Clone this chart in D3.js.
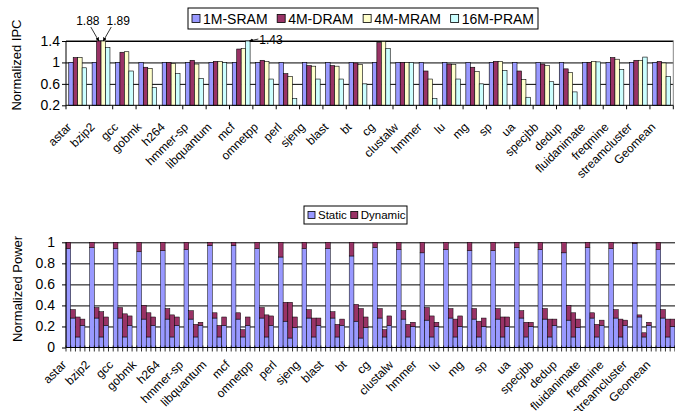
<!DOCTYPE html>
<html>
<head>
<meta charset="utf-8">
<script src="https://cdn.jsdelivr.net/npm/d3@7"></script>
<style>
  body { margin: 0; background: #fff; }
  svg { display: block; font-family: "Liberation Sans", Arial, sans-serif; }
</style>
</head>
<body>
<svg id="chart" width="675" height="411"></svg>
<script>
"use strict";

// benchmarks, same order on both charts
var categories = ["astar", "bzip2", "gcc", "gobmk", "h264", "hmmer-sp", "libquantum", "mcf",
  "omnetpp", "perl", "sjeng", "blast", "bt", "cg", "clustalw", "hmmer", "lu", "mg", "sp", "ua",
  "specjbb", "dedup", "fluidanimate", "freqmine", "streamcluster", "Geomean"];

var techs = ["1M-SRAM", "4M-DRAM", "4M-MRAM", "16M-PRAM"];
var techColors = ["#9999ff", "#993366", "#ffffcc", "#ccffff"];

// normalized IPC
var ipcSRAM = [1, 1, 1, 1, 1, 1, 1, 1, 1, 1, 1, 1, 1, 1, 1, 1, 1, 1, 1, 1, 1, 1, 1, 1, 1, 1];
var ipcDRAM = [1.09, 1.88, 1.19, 0.91, 1.00, 1.04, 1.02, 1.25, 1.04, 0.79, 0.94, 0.94, 0.99,
  1.37, 1.00, 0.84, 0.97, 0.91, 1.02, 0.84, 0.97, 0.88, 1.00, 1.09, 1.04, 1.02];
var ipcMRAM = [1.09, 1.89, 1.20, 0.89, 0.98, 0.97, 1.02, 1.26, 1.02, 0.74, 0.93, 0.93, 0.96,
  1.39, 1.00, 0.69, 0.96, 0.83, 1.02, 0.68, 0.94, 0.81, 1.02, 1.06, 1.04, 0.99];
var ipcPRAM = [0.90, 1.28, 0.84, 0.53, 0.79, 0.70, 1.00, 1.43, 0.69, 0.33, 0.69, 0.69, 0.60,
  1.26, 1.00, 0.33, 0.69, 0.60, 0.85, 0.35, 0.64, 0.45, 1.01, 0.87, 1.10, 0.74];
var ipcTicks = [0.2, 0.6, 1, 1.4];

// normalized power, static and dynamic part per technology
var staticSRAM = [0.94, 0.95, 0.94, 0.91, 0.92, 0.93, 0.97, 0.97, 0.94, 0.86, 0.94, 0.94, 0.87,
  0.95, 0.93, 0.90, 0.93, 0.92, 0.92, 0.95, 0.93, 0.90, 0.95, 0.94, 0.99, 0.93];
var dynamicSRAM = [0.06, 0.05, 0.06, 0.09, 0.08, 0.07, 0.03, 0.03, 0.06, 0.14, 0.06, 0.06, 0.13,
  0.05, 0.07, 0.10, 0.07, 0.08, 0.08, 0.05, 0.07, 0.10, 0.05, 0.06, 0.01, 0.07];
var staticDRAM = [0.28, 0.28, 0.28, 0.27, 0.27, 0.27, 0.28, 0.27, 0.28, 0.25, 0.28, 0.28, 0.25,
  0.28, 0.27, 0.26, 0.28, 0.27, 0.27, 0.28, 0.27, 0.26, 0.28, 0.28, 0.29, 0.28];
var dynamicDRAM = [0.08, 0.10, 0.10, 0.13, 0.10, 0.08, 0.05, 0.06, 0.10, 0.18, 0.08, 0.06, 0.16,
  0.09, 0.08, 0.12, 0.09, 0.10, 0.10, 0.07, 0.10, 0.14, 0.05, 0.08, 0.02, 0.08];
var staticMRAM = [0.10, 0.10, 0.10, 0.10, 0.10, 0.10, 0.10, 0.10, 0.10, 0.09, 0.10, 0.10, 0.09,
  0.10, 0.10, 0.10, 0.10, 0.10, 0.10, 0.10, 0.10, 0.10, 0.10, 0.10, 0.10, 0.10];
var dynamicMRAM = [0.19, 0.24, 0.22, 0.23, 0.21, 0.12, 0.11, 0.07, 0.21, 0.34, 0.18, 0.12, 0.28,
  0.07, 0.12, 0.20, 0.17, 0.15, 0.19, 0.14, 0.17, 0.23, 0.12, 0.17, 0.04, 0.17];
var staticPRAM = [0.21, 0.21, 0.21, 0.21, 0.21, 0.21, 0.21, 0.21, 0.21, 0.19, 0.21, 0.21, 0.19,
  0.21, 0.20, 0.20, 0.20, 0.20, 0.20, 0.20, 0.21, 0.19, 0.21, 0.21, 0.21, 0.20];
var dynamicPRAM = [0.06, 0.08, 0.09, 0.08, 0.08, 0.03, 0.08, 0.08, 0.09, 0.10, 0.07, 0.06, 0.10,
  0.09, 0.04, 0.04, 0.10, 0.08, 0.09, 0.04, 0.06, 0.08, 0.05, 0.05, 0.03, 0.07];
var powerTicks = [0, 0.2, 0.4, 0.6, 0.8, 1];
var powerParts = ["Static", "Dynamic"];
var partColors = ["#9999ff", "#993366"];

// values that run off the top of the IPC chart get a call-out
var ipcNotes = [
  {cat: "bzip2", tech: 1},
  {cat: "bzip2", tech: 2},
  {cat: "mcf", tech: 3}
];

var ipcSeries = [ipcSRAM, ipcDRAM, ipcMRAM, ipcPRAM];
var staticSeries = [staticSRAM, staticDRAM, staticMRAM, staticPRAM];
var dynamicSeries = [dynamicSRAM, dynamicDRAM, dynamicMRAM, dynamicPRAM];

var svg = d3.select("#chart");
svg.append("rect").attr("width", 675).attr("height", 411).attr("fill", "#fff");

// ---------- top chart: normalized IPC ----------
var ipcBox = {left: 66, right: 673.3, top: 41, bottom: 105.3};

var yIpc = d3.scaleLinear()
    .domain([0.2, 1.4])
    .range([ipcBox.bottom, ipcBox.top])
    .clamp(true);

var x0Ipc = d3.scaleBand()
    .domain(categories)
    .range([ipcBox.left, ipcBox.right]);

var x1Ipc = d3.scaleBand()
    .domain(d3.range(techs.length))
    .range([0, x0Ipc.bandwidth()])
    .paddingOuter(0.62);

var gTop = svg.append("g");

gTop.append("rect")
    .attr("x", ipcBox.left).attr("y", ipcBox.top)
    .attr("width", ipcBox.right - ipcBox.left).attr("height", ipcBox.bottom - ipcBox.top)
    .attr("fill", "#fff");

// gridlines
gTop.append("g")
    .attr("transform", "translate(" + ipcBox.left + ",0)")
    .call(d3.axisLeft(yIpc).tickValues(ipcTicks.slice(1)).tickSize(-(ipcBox.right - ipcBox.left)).tickFormat(""))
    .call(function(g) { g.select(".domain").remove(); })
    .selectAll("line").attr("stroke", "#000").attr("stroke-width", 1);

// plot border (top / right grey)
gTop.append("path")
    .attr("d", "M" + ipcBox.left + "," + (ipcBox.top - 0.5) + "H" + ipcBox.right + "V" + ipcBox.bottom)
    .attr("fill", "none").attr("stroke", "#888").attr("stroke-width", 1);

var ipcRows = categories.map(function(c, i) {
  return {cat: c, vals: ipcSeries.map(function(s) { return s[i]; })};
});

gTop.append("g")
  .selectAll("g")
    .data(ipcRows)
  .enter().append("g")
    .attr("transform", function(d) { return "translate(" + x0Ipc(d.cat) + ",0)"; })
  .selectAll("rect")
    .data(function(d) { return d.vals; })
  .enter().append("rect")
    .attr("x", function(d, i) { return x1Ipc(i); })
    .attr("y", function(d) { return yIpc(d); })
    .attr("width", x1Ipc.bandwidth())
    .attr("height", function(d) { return yIpc(0.2) - yIpc(d); })
    .attr("fill", function(d, i) { return techColors[i]; })
    .attr("stroke", "#000")
    .attr("stroke-width", 0.6);

// axes
var yAxisTop = gTop.append("g")
    .attr("transform", "translate(" + ipcBox.left + ",0)")
    .call(d3.axisLeft(yIpc).tickValues(ipcTicks).tickSize(4).tickPadding(2).tickFormat(function(d) { return String(d); }));
yAxisTop.select(".domain").attr("d", "M0," + ipcBox.top + "V" + ipcBox.bottom).attr("stroke", "#000");
yAxisTop.selectAll("line").attr("stroke", "#000");
yAxisTop.selectAll("text").attr("font-size", 14).attr("fill", "#000").attr("font-family", null);

var xTop = gTop.append("g");
xTop.append("line")
    .attr("x1", ipcBox.left).attr("x2", ipcBox.right)
    .attr("y1", ipcBox.bottom).attr("y2", ipcBox.bottom)
    .attr("stroke", "#000");
xTop.selectAll("line.tick")
    .data(categories.concat([null]))
  .enter().append("line")
    .attr("class", "tick")
    .attr("x1", function(d) { return d === null ? ipcBox.right : x0Ipc(d); })
    .attr("x2", function(d) { return d === null ? ipcBox.right : x0Ipc(d); })
    .attr("y1", ipcBox.bottom).attr("y2", ipcBox.bottom + 4)
    .attr("stroke", "#000");

xTop.selectAll("text")
    .data(categories)
  .enter().append("text")
    .attr("transform", function(d) {
      return "translate(" + (x0Ipc(d) + x0Ipc.bandwidth() / 2 - 5.5) + "," + (ipcBox.bottom + 22.5) + ") rotate(-45)";
    })
    .attr("text-anchor", "end")
    .attr("font-size", 12)
    .text(function(d) { return d; });

gTop.append("text")
    .attr("transform", "translate(21," + 65 + ") rotate(-90)")
    .attr("text-anchor", "middle")
    .attr("font-size", 13)
    .text("Normalized IPC");

// call-outs for clipped bars
svg.append("defs").append("marker")
    .attr("id", "arrow")
    .attr("viewBox", "0 0 10 10")
    .attr("refX", 9).attr("refY", 5)
    .attr("markerWidth", 5).attr("markerHeight", 5)
    .attr("orient", "auto")
  .append("path")
    .attr("d", "M0,0L10,5L0,10z")
    .attr("fill", "#000");

ipcNotes.forEach(function(n, k) {
  var v = ipcSeries[n.tech][categories.indexOf(n.cat)];
  var ex = x0Ipc(n.cat) + x1Ipc(n.tech) + x1Ipc.bandwidth() / 2;
  var ey = yIpc(v);
  var sx, sy, tx, ty, anchor;
  if (k === 0) { sx = ex - 8; sy = ey - 14; tx = ex - 11; ty = ey - 16; anchor = "middle"; }
  else if (k === 1) { sx = ex + 8; sy = ey - 14; tx = ex + 15; ty = ey - 16; anchor = "middle"; }
  else { ex += 1.5; sx = ex + 9; sy = ey - 2; tx = ex + 10; ty = ey + 3; anchor = "start"; }
  gTop.append("line")
      .attr("x1", sx).attr("y1", sy).attr("x2", ex).attr("y2", ey)
      .attr("stroke", "#000").attr("stroke-width", 0.8)
      .attr("marker-end", "url(#arrow)");
  gTop.append("text")
      .attr("x", tx).attr("y", ty)
      .attr("text-anchor", anchor)
      .attr("font-size", 12)
      .text(d3.format(".2f")(v));
});

// legend
function legend(items, colors, x, y, w, h, fontSize, sw) {
  var g = svg.append("g");
  g.append("rect")
      .attr("x", x).attr("y", y).attr("width", w).attr("height", h)
      .attr("fill", "#fff").attr("stroke", "#000").attr("stroke-width", 1);
  var labels = items.map(function(t) {
    return g.append("text").attr("font-size", fontSize).attr("y", y + h / 2 + fontSize * 0.36).text(t);
  });
  var widths = labels.map(function(l) { return l.node().getComputedTextLength(); });
  var used = d3.sum(widths) + items.length * (sw + 3);
  var gap = Math.max(4, (w - 8 - used) / (items.length - 1));
  var cx = x + 4;
  labels.forEach(function(l, i) {
    g.append("rect")
        .attr("x", cx).attr("y", y + h / 2 - sw / 2)
        .attr("width", sw).attr("height", sw)
        .attr("fill", colors[i]).attr("stroke", "#000").attr("stroke-width", 0.8);
    l.attr("x", cx + sw + 3);
    cx += sw + 3 + widths[i] + gap;
  });
}

legend(techs, techColors, 188, 8, 350, 21, 14, 8);

// ---------- bottom chart: normalized power ----------
var powBox = {left: 66, right: 675, top: 242.3, bottom: 347.5};

var yPow = d3.scaleLinear()
    .domain([0, 1])
    .range([powBox.bottom, powBox.top]);

// each benchmark takes five slots, the fifth one is empty
var x0Pow = d3.scaleBand()
    .domain(categories)
    .range([powBox.left, powBox.left + categories.length * 23.6]);

var x1Pow = d3.scaleBand()
    .domain(d3.range(techs.length + 1))
    .range([0, x0Pow.bandwidth()]);

var gBot = svg.append("g");

gBot.append("g")
    .attr("transform", "translate(" + powBox.left + ",0)")
    .call(d3.axisLeft(yPow).tickValues(powerTicks.slice(1)).tickSize(-(powBox.right - powBox.left)).tickFormat(""))
    .call(function(g) { g.select(".domain").remove(); })
    .selectAll("line").attr("stroke", "#000").attr("stroke-width", 1);

var powRows = [];
categories.forEach(function(c, i) {
  techs.forEach(function(t, j) {
    powRows.push({cat: c, tech: j, s: staticSeries[j][i], d: dynamicSeries[j][i]});
  });
});

var stacks = gBot.append("g")
  .selectAll("g")
    .data(powRows)
  .enter().append("g")
    .attr("transform", function(d) { return "translate(" + (x0Pow(d.cat) + x1Pow(d.tech)) + ",0)"; });

stacks.append("rect")
    .attr("y", function(d) { return yPow(d.s); })
    .attr("width", x1Pow.bandwidth())
    .attr("height", function(d) { return yPow(0) - yPow(d.s); })
    .attr("fill", partColors[0])
    .attr("stroke", "#000").attr("stroke-width", 0.5);

stacks.append("rect")
    .attr("y", function(d) { return yPow(d.s + d.d); })
    .attr("width", x1Pow.bandwidth())
    .attr("height", function(d) { return yPow(d.s) - yPow(d.s + d.d); })
    .attr("fill", partColors[1])
    .attr("stroke", "#000").attr("stroke-width", 0.5);

var yAxisBot = gBot.append("g")
    .attr("transform", "translate(" + powBox.left + ",0)")
    .call(d3.axisLeft(yPow).tickValues(powerTicks).tickSize(4).tickPadding(7).tickFormat(function(d) { return String(d); }));
yAxisBot.select(".domain").attr("d", "M0," + powBox.top + "V" + powBox.bottom).attr("stroke", "#000");
yAxisBot.selectAll("line").attr("stroke", "#000");
yAxisBot.selectAll("text").attr("font-size", 14).attr("fill", "#000").attr("font-family", null);

var xBot = gBot.append("g");
xBot.append("line")
    .attr("x1", powBox.left).attr("x2", powBox.right)
    .attr("y1", powBox.bottom).attr("y2", powBox.bottom)
    .attr("stroke", "#000");

var slotEdges = [];
categories.forEach(function(c) {
  d3.range(techs.length + 1).forEach(function(j) { slotEdges.push(x0Pow(c) + x1Pow(j)); });
});
xBot.selectAll("line.tick")
    .data(slotEdges)
  .enter().append("line")
    .attr("class", "tick")
    .attr("x1", function(d) { return d; }).attr("x2", function(d) { return d; })
    .attr("y1", powBox.bottom - 2).attr("y2", powBox.bottom + 4)
    .attr("stroke", "#000").attr("stroke-width", 0.8);

// the labels sit on the same spacing as the IPC chart above
xBot.selectAll("text")
    .data(categories)
  .enter().append("text")
    .attr("transform", function(d) {
      return "translate(" + (x0Ipc(d) + x0Ipc.bandwidth() / 2 - 10.5) + "," + (powBox.bottom + 18) + ") rotate(-45)";
    })
    .attr("text-anchor", "end")
    .attr("font-size", 12)
    .text(function(d) { return d; });

gBot.append("text")
    .attr("transform", "translate(22," + 289 + ") rotate(-90)")
    .attr("text-anchor", "middle")
    .attr("font-size", 13)
    .text("Normalized Power");

legend(powerParts, partColors, 304, 206, 103, 18, 11.5, 7);
</script>
</body>
</html>
